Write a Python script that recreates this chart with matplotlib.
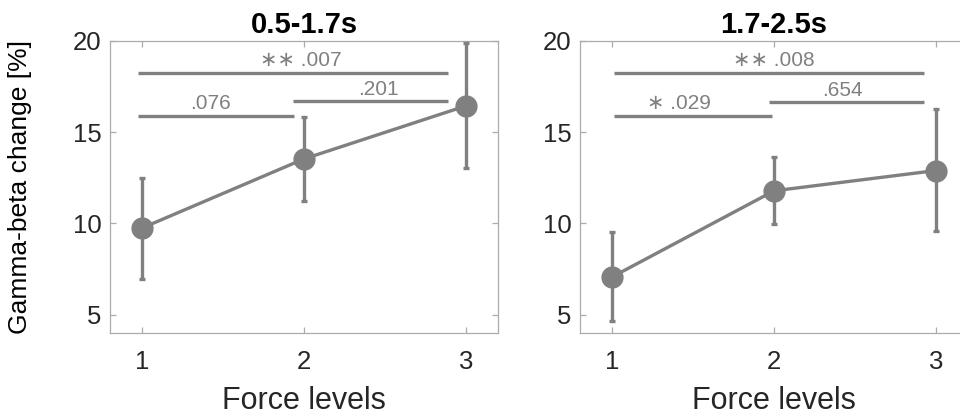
import numpy as np
import matplotlib
matplotlib.use("Agg")
import matplotlib.pyplot as plt

plt.rcParams['font.family'] = ['Liberation Sans', 'DejaVu Sans']

force = [1, 2, 3]
titles = ["0.5-1.7s", "1.7-2.5s"]

# means and error bar ends
means = [[9.76, 13.54, 16.44], [7.08, 11.79, 12.9]]
err_hi = [[12.5, 15.84, 19.9], [9.54, 13.65, 16.26]]
err_lo = [[6.97, 11.24, 13.05], [4.67, 9.98, 9.6]]

# significance bars: (x0, x1, y) and labels (x, y, text)
sig_lines = [
    [(0.97, 2.89, 18.25), (0.97, 1.94, 15.89), (1.93, 2.89, 16.71)],
    [(1.01, 2.93, 18.25), (1.01, 1.99, 15.89), (1.97, 2.93, 16.66)],
]
sig_text = [
    [(1.98, 18.95, "\u2217\u2217 .007"), (1.42, 16.55, ".076"), (2.46, 17.35, ".201")],
    [(2.0, 18.95, "\u2217\u2217 .008"), (1.41, 16.55, "\u2217 .029"), (2.42, 17.3, ".654")],
]

gray = "#808080"
box = "#ababab"
ticktext = "#262626"

fig = plt.figure(figsize=(9.6, 4.16), dpi=100)
positions = [[0.1146, 0.1995, 0.4042, 0.702], [0.6042, 0.1995, 0.4042, 0.702]]

for k in range(2):
    ax = fig.add_axes(positions[k])
    m = np.array(means[k])
    lo = m - np.array(err_lo[k])
    hi = np.array(err_hi[k]) - m
    ax.errorbar(force, m, yerr=[lo, hi], color=gray, lw=2.4, elinewidth=2.4,
                capsize=2.5, capthick=2.4, marker='o', markersize=15, zorder=3)
    for x0, x1, y in sig_lines[k]:
        ax.plot([x0, x1], [y, y], color=gray, lw=2.4, solid_capstyle='butt')
    for x, y, t in sig_text[k]:
        ax.text(x, y, t, color=gray, fontsize=15, ha='center', va='center')

    ax.set_xlim(0.8, 3.2)
    ax.set_ylim(4, 20)
    ax.set_xticks(force)
    ax.set_yticks([5, 10, 15, 20])
    for s in ax.spines.values():
        s.set_color(box)
        s.set_linewidth(0.9)
    ax.tick_params(direction='in', length=4, width=0.9, color=box,
                   top=True, right=True, labelsize=18.5, labelcolor=ticktext)
    ax.tick_params(axis='x', pad=12)
    ax.tick_params(axis='y', pad=6)
    ax.set_title(titles[k], fontsize=21, fontweight='bold', pad=6)
    ax.set_xlabel("Force levels", fontsize=22, color=ticktext, labelpad=9)
    if k == 0:
        ax.set_ylabel("Gamma-beta change [%]", fontsize=19, color='black')
        ax.yaxis.set_label_coords(-0.2, 0.5)

fig.savefig("out.png", dpi=100)
